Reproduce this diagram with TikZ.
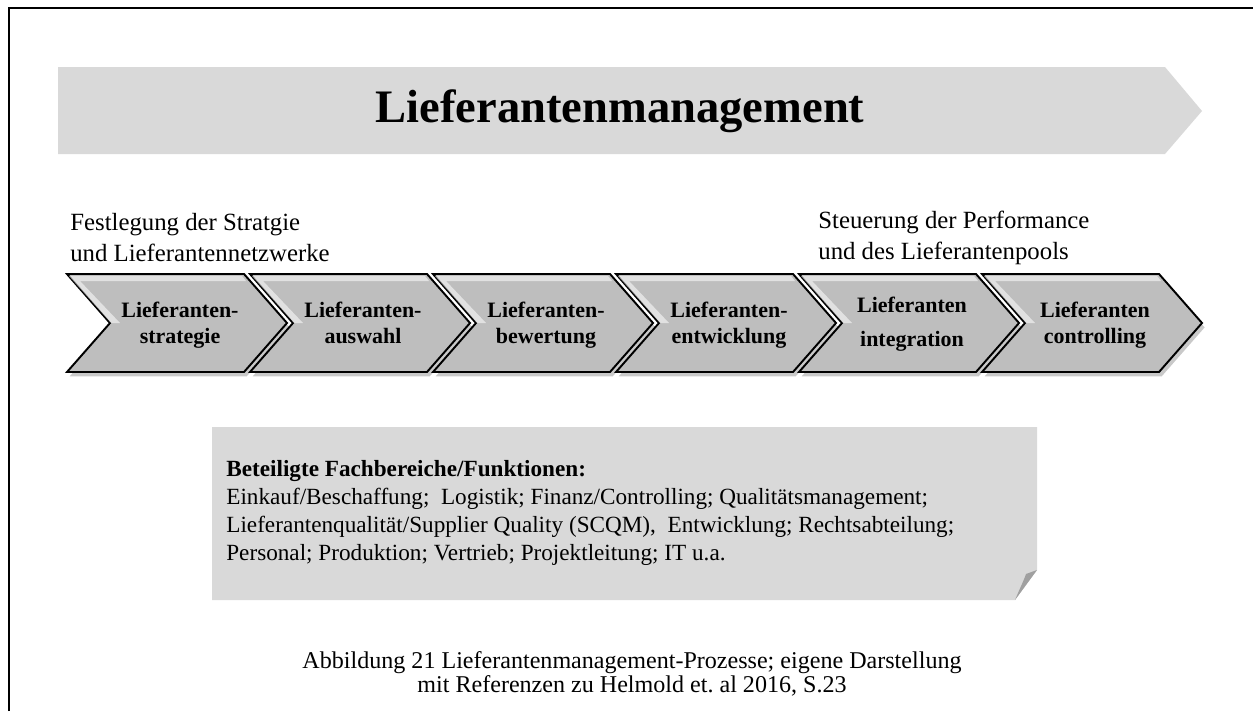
\documentclass[tikz,border=0pt]{standalone}
\usepackage{fontspec}
\setmainfont{Liberation Serif}
\usetikzlibrary{shadows}
\frenchspacing

\begin{document}
\begin{tikzpicture}[x=0.02cm, y=-0.02cm, every node/.style={inner sep=0pt}]
        \definecolor{lightgrey}{RGB}{217,217,217}
        \definecolor{chevgrey}{RGB}{190,190,190}
        \definecolor{foldgrey}{RGB}{160,160,160}
        \tikzset{
            chev/.style={draw=black, line width=1.1pt, fill=chevgrey, line join=miter,
                drop shadow={shadow xshift=1.5pt, shadow yshift=-2.5pt, opacity=0.3, fill=black!70}},
            bevel/.style={fill=white, opacity=0.55, draw=none},
            chevtext/.style={font=\fontsize{12.5}{14.8}\selectfont\bfseries, align=center},
            label/.style={font=\fontsize{14.1}{17.6}\selectfont, align=left, anchor=west}
        }
        \useasboundingbox (0,0) rectangle (1253,711);

        % frame (only top and left edge visible)
        \draw[line width=1.1pt] (9,711) -- (9,8) -- (1253,8);

        % Title arrow
        \fill[lightgrey] (58,67) -- (1165,67) -- (1202,111) -- (1165,154) -- (58,154) -- cycle;
        \node[font=\fontsize{26.5}{30}\selectfont\bfseries] (title) at (620,111) {Lieferantenmanagement};

        % Labels above the process chain
        \node[label] (left) at (70,237.5) {Festlegung der Stratgie\\und Lieferantennetzwerke};
        \node[label] (right) at (818,237.5) {Steuerung der Performance\\und des Lieferantenpools};

        % Process chain: six chevrons
        \draw[chev] (67,274) -- ++(177,0) -- ++(43,49) -- ++(-43,49) -- ++(-177,0) -- ++(43,-49) -- cycle;
        \draw[chev] (250,274) -- ++(177,0) -- ++(43,49) -- ++(-43,49) -- ++(-177,0) -- ++(43,-49) -- cycle;
        \draw[chev] (433,274) -- ++(177,0) -- ++(43,49) -- ++(-43,49) -- ++(-177,0) -- ++(43,-49) -- cycle;
        \draw[chev] (616,274) -- ++(177,0) -- ++(43,49) -- ++(-43,49) -- ++(-177,0) -- ++(43,-49) -- cycle;
        \draw[chev] (799,274) -- ++(177,0) -- ++(43,49) -- ++(-43,49) -- ++(-177,0) -- ++(43,-49) -- cycle;
        \draw[chev] (982,274) -- ++(177,0) -- ++(43,49) -- ++(-43,49) -- ++(-177,0) -- ++(43,-49) -- cycle;

        % bevel highlights
        \fill[bevel] (69,276) -- (242,276) -- (246,281) -- (80,281) -- (120,323) -- (111,323) -- cycle;
        \fill[bevel] (252,276) -- (425,276) -- (429,281) -- (263,281) -- (303,323) -- (294,323) -- cycle;
        \fill[bevel] (435,276) -- (608,276) -- (612,281) -- (446,281) -- (486,323) -- (477,323) -- cycle;
        \fill[bevel] (618,276) -- (791,276) -- (795,281) -- (629,281) -- (669,323) -- (660,323) -- cycle;
        \fill[bevel] (801,276) -- (974,276) -- (978,281) -- (812,281) -- (852,323) -- (843,323) -- cycle;
        \fill[bevel] (984,276) -- (1157,276) -- (1161,281) -- (995,281) -- (1035,323) -- (1026,323) -- cycle;

        \node[chevtext] (strategie) at (180,325) {Lieferanten-\strut\\strategie\strut};
        \node[chevtext] (auswahl) at (363,325) {Lieferanten-\strut\\auswahl\strut};
        \node[chevtext] (bewertung) at (546,325) {Lieferanten-\strut\\bewertung\strut};
        \node[chevtext] (entwicklung) at (729,325) {Lieferanten-\strut\\entwicklung\strut};
        \node[chevtext, font=\fontsize{12.5}{19}\selectfont\bfseries] (integration) at (912,323) {Lieferanten\strut\\integration\strut};
        \node[chevtext] (controlling) at (1095,325) {Lieferanten\strut\\controlling\strut};

        % Box with involved departments
        \fill[lightgrey] (212,427) -- (1037,427) -- (1037,570) -- (1015,600) -- (212,600) -- cycle;
        \fill[foldgrey] (1037,570) -- (1015,600) .. controls (1020,588) and (1024,580) .. (1026,574) -- cycle;
        \node[anchor=west, align=left, font=\fontsize{13.2}{16}\selectfont] (funktionen) at (226,513)
            {\textbf{Beteiligte Fachbereiche/Funktionen:}\\
             Einkauf/Beschaffung;\ \ Logistik; Finanz/Controlling; Qualitätsmanagement;\\
             Lieferantenqualität/Supplier Quality (SCQM),\ \ Entwicklung; Rechtsabteilung;\\
             Personal; Produktion; Vertrieb; Projektleitung; IT u.a.};

        % Caption
        \node[align=center, font=\fontsize{13.7}{13.9}\selectfont] (caption) at (632,674)
            {Abbildung 21 Lieferantenmanagement-Prozesse; eigene Darstellung\\mit Referenzen zu Helmold et. al 2016, S.23};
    \end{tikzpicture}
\end{document}
